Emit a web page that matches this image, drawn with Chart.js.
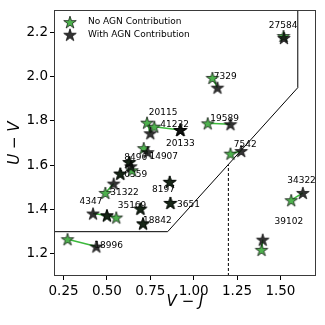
<!DOCTYPE html>
<html>
<head>
<meta charset="utf-8">
<script src="https://cdn.jsdelivr.net/npm/chart.js@4.4.1/dist/chart.umd.min.js"></script>
<style>
  html, body { margin: 0; padding: 0; background: #fff; }
  canvas { display: block; }
</style>
</head>
<body>
<canvas id="grafico" width="325" height="325"></canvas>
<script>
// ---- datos ----
const nombres = ['27584','7329','19589','7542','34322','39102','20115','41232','20133','14907',
                 '8496','10559','','31322','4347','','35169','18842','18996','8197','3651'];

// sin contribucion AGN (verde)
const sinAgnX = [1.518, 1.108, 1.081, 1.212, 1.562, 1.391, 0.731, 0.773, 0.923, 0.712,
                 0.629, 0.645, 0.577, 0.491, 0.500, 0.554, 0.693, 0.708, 0.273, 0.862, 0.866];
const sinAgnY = [2.183, 1.994, 1.789, 1.652, 1.442, 1.218, 1.792, 1.774, 1.759, 1.677,
                 1.614, 1.577, 1.562, 1.475, 1.373, 1.364, 1.404, 1.337, 1.266, 1.525, 1.430];

// con contribucion AGN (negro)
const conAgnX = [1.520, 1.137, 1.212, 1.274, 1.629, 1.398, 0.750, 0.923, 0.923, 0.735,
                 0.629, 0.638, 0.577, 0.539, 0.420, 0.500, 0.693, 0.708, 0.439, 0.862, 0.866];
const conAgnY = [2.174, 1.950, 1.785, 1.664, 1.475, 1.264, 1.744, 1.759, 1.759, 1.659,
                 1.614, 1.595, 1.562, 1.517, 1.382, 1.374, 1.404, 1.337, 1.233, 1.525, 1.430];

// donde va el texto de cada objeto (unidades de los ejes)
const textoX = [1.433, 1.116, 1.096, 1.231, 1.539, 1.466, 0.741, 0.808, 0.841, 0.745,
                0.600, 0.567, null, 0.519, 0.342, null, 0.562, 0.708, 0.427, 0.760, 0.904];
const textoY = [2.231, 1.999, 1.811, 1.695, 1.531, 1.346, 1.835, 1.784, 1.698, 1.637,
                1.633, 1.558, null, 1.475, 1.437, null, 1.419, 1.349, 1.237, 1.488, 1.422];

// caja de seleccion UVJ
const cajaX = [0.195, 0.85, 1.6, 1.6];
const cajaY = [1.3, 1.3, 1.95, 2.3];
const cortaX = [1.2, 1.2];
const cortaY = [1.1, 1.603];

const ticksX = [0.25, 0.5, 0.75, 1.0, 1.25, 1.5];
const ticksY = [1.2, 1.4, 1.6, 1.8, 2.0, 2.2];

const VERDE = 'rgb(78,178,78)';
const NEGRO = 'rgba(15,15,15,0.85)';

function estrella(relleno, tam){
    const c = document.createElement('canvas');
    c.width = tam; c.height = tam;
    const g = c.getContext('2d');
    const r = tam/2 - 1.4, ri = r*0.382, cx = tam/2, cy = tam/2 + 0.6;
    g.beginPath();
    for(let k = 0; k < 10; k++){
        const a = -Math.PI/2 + k*Math.PI/5;
        const rr = k % 2 ? ri : r;
        const px = cx + rr*Math.cos(a), py = cy + rr*Math.sin(a);
        k ? g.lineTo(px, py) : g.moveTo(px, py);
    }
    g.closePath();
    g.fillStyle = relleno;
    g.fill();
    g.lineWidth = 0.7;
    g.strokeStyle = '#000';
    g.stroke();
    return c;
}

const estrellaVerde = estrella(VERDE, 16);
const estrellaNegra = estrella(NEGRO, 16);

const pares = sinAgnX.map((x, i) => ({
    type: 'line',
    label: '',
    data: [{x: x, y: sinAgnY[i]}, {x: conAgnX[i], y: conAgnY[i]}],
    borderColor: 'rgb(60,185,60)',
    borderWidth: 1.5,
    pointRadius: 0,
    showLine: true,
    order: 10
}));

// textos, marco y leyenda
const extras = {
    id: 'extras',
    beforeDatasetsDraw(chart){
        const {ctx, scales: {x, y}} = chart;
        ctx.save();
        ctx.font = '9px "DejaVu Sans"';
        ctx.fillStyle = '#000';
        ctx.textAlign = 'left';
        ctx.textBaseline = 'middle';
        nombres.forEach((n, i) => {
            if(!n) return;
            ctx.fillText(n, x.getPixelForValue(textoX[i]), y.getPixelForValue(textoY[i]));
        });
        ctx.restore();
    },
    afterDraw(chart){
        const {ctx, chartArea: a} = chart;
        ctx.save();
        ctx.strokeStyle = '#3a3a3a';
        ctx.lineWidth = 1;
        ctx.strokeRect(Math.round(a.left) + 0.5, Math.round(a.top) + 0.5,
                       Math.round(a.right - a.left) - 1, Math.round(a.bottom - a.top) - 1);
        // leyenda
        const items = [['No AGN Contribution', estrellaVerde], ['With AGN Contribution', estrellaNegra]];
        ctx.font = '9px "DejaVu Sans"';
        ctx.fillStyle = '#000';
        ctx.textBaseline = 'middle';
        items.forEach(([txt, img], k) => {
            const cy = a.top + 12 + k*12.6;
            ctx.drawImage(img, a.left + 16 - 8, cy - 8);
            ctx.fillText(txt, a.left + 34, cy);
        });
        ctx.restore();
    }
};

const ejeComun = {
    type: 'linear',
    border: {display: false},
    grid: {drawOnChartArea: false, drawTicks: true, tickLength: 4, tickColor: '#000'},
};

new Chart(document.getElementById('grafico'), {
    type: 'scatter',
    data: {
        datasets: [
            {
                label: 'With AGN Contribution',
                data: conAgnX.map((x, i) => ({x: x, y: conAgnY[i]})),
                pointStyle: estrellaNegra,
                order: 0
            },
            {
                label: 'No AGN Contribution',
                data: sinAgnX.map((x, i) => ({x: x, y: sinAgnY[i]})),
                pointStyle: estrellaVerde,
                order: 1
            },
            {
                type: 'line',
                label: 'caja',
                data: cajaX.map((x, i) => ({x: x, y: cajaY[i]})),
                borderColor: '#000',
                borderWidth: 1,
                pointRadius: 0,
                showLine: true,
                order: 20
            },
            {
                type: 'line',
                label: 'corte',
                data: cortaX.map((x, i) => ({x: x, y: cortaY[i]})),
                borderColor: '#000',
                borderWidth: 1,
                borderDash: [3, 2],
                pointRadius: 0,
                showLine: true,
                order: 21
            },
            ...pares
        ]
    },
    options: {
        responsive: false,
        animation: false,
        layout: {padding: {top: 10, right: 9, left: 0, bottom: 0}},
        plugins: {
            legend: {display: false},
            tooltip: {enabled: false}
        },
        scales: {
            x: {
                ...ejeComun,
                position: 'bottom',
                min: 0.195,
                max: 1.705,
                afterBuildTicks: s => { s.ticks = ticksX.map(v => ({value: v})); },
                afterFit: s => { s.height = 49; },
                ticks: {
                    color: '#000',
                    padding: 3,
                    maxRotation: 0,
                    font: {family: 'DejaVu Sans', size: 13.5},
                    callback: v => v.toFixed(2)
                },
                title: {
                    display: true,
                    text: 'V \u2212 J',
                    color: '#000',
                    font: {family: 'DejaVu Sans', size: 15, style: 'italic'},
                    padding: {top: 0, bottom: 14}
                }
            },
            y: {
                ...ejeComun,
                position: 'left',
                min: 1.1,
                max: 2.3,
                afterBuildTicks: s => { s.ticks = ticksY.map(v => ({value: v})); },
                afterFit: s => { s.width = 54; },
                ticks: {
                    color: '#000',
                    padding: 2,
                    font: {family: 'DejaVu Sans', size: 13.5},
                    callback: v => v.toFixed(1)
                },
                title: {
                    display: true,
                    text: 'U \u2212 V',
                    color: '#000',
                    font: {family: 'DejaVu Sans', size: 15, style: 'italic'},
                    padding: {top: 6, bottom: 0}
                }
            }
        }
    },
    plugins: [extras]
});
</script>
</body>
</html>
